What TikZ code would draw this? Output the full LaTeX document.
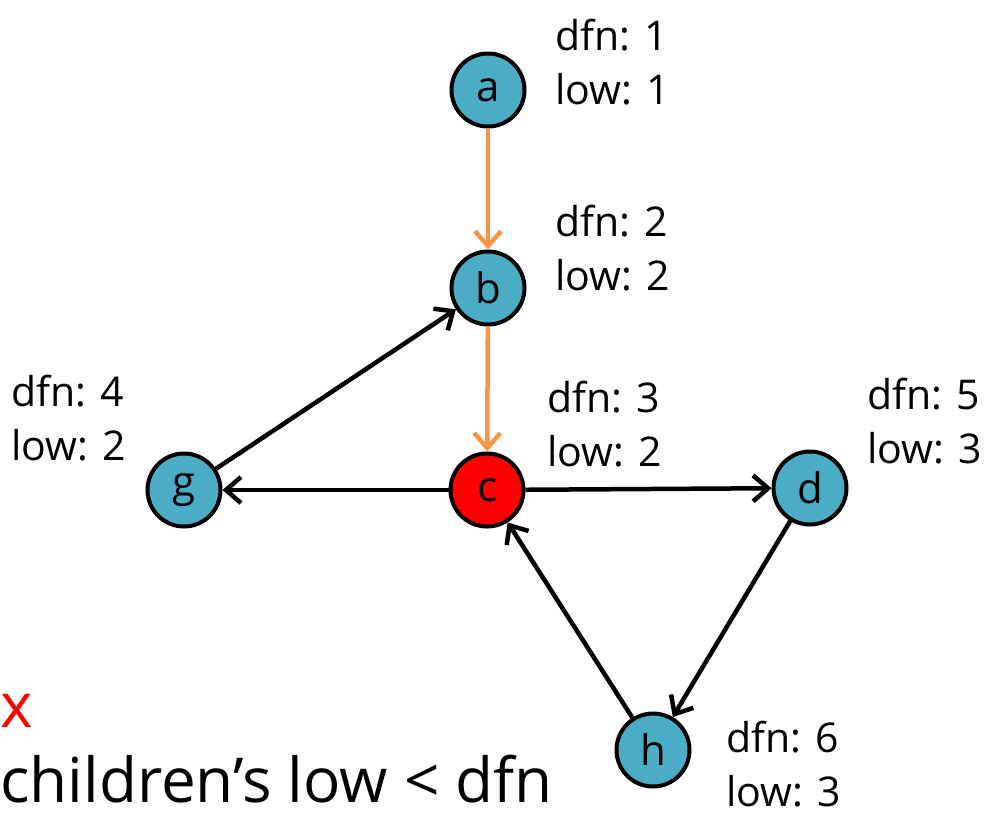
\documentclass[tikz,border=0pt]{standalone}
\usepackage{fontspec}
\setmainfont{Open Sans}
\usetikzlibrary{arrows.meta}
\definecolor{nodeteal}{HTML}{4BACC6}
\definecolor{treeorange}{HTML}{F79646}
\definecolor{cutred}{HTML}{FF0000}
\begin{document}
\begin{tikzpicture}[x=1pt,y=-1pt,
  vertex/.style={circle,draw=black,line width=4pt,fill=nodeteal,minimum size=73pt,inner sep=0pt,font=\fontsize{42}{46}\selectfont},
  cutvertex/.style={vertex,fill=cutred},
  info/.style={anchor=west,align=left,inner sep=0pt,font=\fontsize{41}{54}\selectfont},
  tip/.style={-{Straight Barb[length=15pt,width=26pt,line width=4.5pt]}},
  treeedge/.style={tip,draw=treeorange,line width=4.5pt},
  backedge/.style={tip,draw=black,line width=4.5pt}]
\useasboundingbox (0,0) rectangle (991,815);

% vertices
\node[vertex] (a) at (488,90) {a};
\node[vertex] (b) at (488,288) {b};
\node[cutvertex] (c) at (487,490) {c};
\node[vertex] (g) at (184,490) {g};
\node[vertex] (d) at (810,488) {d};
\node[vertex] (h) at (653,750) {h};

% dfn / low labels
\node[info] (la) at (555,62) {dfn: 1\\low: 1};
\node[info] (lb) at (555,248) {dfn: 2\\low: 2};
\node[info] (lc) at (547,424) {dfn: 3\\low: 2};
\node[info] (lg) at (11,418) {dfn: 4\\low: 2};
\node[info] (ld) at (867,421) {dfn: 5\\low: 3};
\node[info] (lh) at (726,764) {dfn: 6\\low: 3};

% edges
\draw[treeedge] (a) -- (b);
\draw[treeedge] (b) -- (c);
\draw[backedge] (c) -- (g);
\draw[backedge] (g) -- (b);
\draw[backedge] (c) -- (d);
\draw[backedge] (d) -- (h);
\draw[backedge] (h) -- (c);

% caption
\node[anchor=base west,inner sep=0pt,text=cutred,font=\fontsize{62}{68}\selectfont] (mark) at (0,727) {x};
\node[anchor=base west,inner sep=0pt,font=\fontsize{62}{68}\selectfont] (rule) at (0,802) {children’s low < dfn};
\end{tikzpicture}
\end{document}
